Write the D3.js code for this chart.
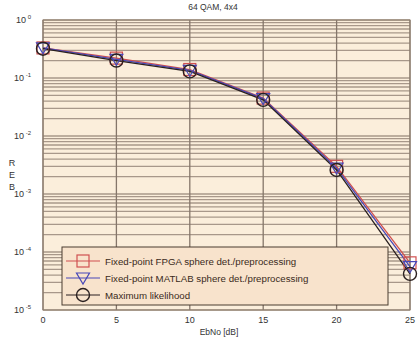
<!DOCTYPE html>
<html>
<head>
<meta charset="utf-8">
<script src="https://cdn.jsdelivr.net/npm/d3@7"></script>
<style>
  html, body { margin: 0; padding: 0; background: #ffffff; }
  svg { display: block; font-family: "Liberation Sans", Arial, sans-serif; }
</style>
</head>
<body>
<svg id="chart" width="420" height="340"></svg>
<script>
// Bit error rate of a 4x4 MIMO 64-QAM link vs. Eb/No
const ebno = [0, 5, 10, 15, 20, 25];
const berFpga   = [0.33, 0.22, 0.14, 0.045, 0.0030, 6.5e-5];
const berMatlab = [0.33, 0.21, 0.135, 0.044, 0.0028, 5.6e-5];
const berML     = [0.32, 0.20, 0.13, 0.042, 0.0026, 4.2e-5];
const xTicks = [0, 5, 10, 15, 20, 25];
const yExponents = [0, -1, -2, -3, -4, -5];
const seriesNames = [
  "Fixed-point FPGA sphere det./preprocessing",
  "Fixed-point MATLAB sphere det./preprocessing",
  "Maximum likelihood"
];

const svg = d3.select("#chart");
const plotL = 43, plotR = 410, plotT = 20, plotB = 310;

const x = d3.scaleLinear().domain([0, 25]).range([plotL, plotR]);
const y = d3.scaleLog().domain([1e-5, 1]).range([plotB, plotT]);

// plot background
svg.append("rect")
  .attr("x", plotL).attr("y", plotT)
  .attr("width", plotR - plotL).attr("height", plotB - plotT)
  .attr("fill", "#fbeedb");

// horizontal grid on every log tick (minor + major)
const gridTicks = [];
for (let e = -5; e < 0; e++) {
  for (let m = 1; m <= 9; m++) gridTicks.push(m * Math.pow(10, e));
}
gridTicks.push(1);
svg.append("g").selectAll("line")
  .data(gridTicks)
  .join("line")
  .attr("x1", plotL).attr("x2", plotR)
  .attr("y1", d => y(d)).attr("y2", d => y(d))
  .attr("stroke", "#a8988a")
  .attr("stroke-width", 1.3);

// vertical grid at x ticks
svg.append("g").selectAll("line")
  .data(xTicks)
  .join("line")
  .attr("x1", d => x(d)).attr("x2", d => x(d))
  .attr("y1", plotT).attr("y2", plotB)
  .attr("stroke", "#85766a")
  .attr("stroke-width", 1.3);

// frame
svg.append("rect")
  .attr("x", plotL).attr("y", plotT)
  .attr("width", plotR - plotL).attr("height", plotB - plotT)
  .attr("fill", "none")
  .attr("stroke", "#8f8070")
  .attr("stroke-width", 1);

// y tick labels: 10^e
const yl = svg.append("g").attr("fill", "#333").attr("font-size", 9);
yExponents.forEach(e => {
  const t = yl.append("text")
    .attr("x", 31).attr("y", y(Math.pow(10, e)) + 3)
    .attr("text-anchor", "end");
  t.append("tspan").text("10");
  t.append("tspan").attr("dy", -4).attr("font-size", 6).text(" " + e);
});

// x tick labels
svg.append("g").selectAll("text")
  .data(xTicks)
  .join("text")
  .attr("x", d => x(d)).attr("y", 323)
  .attr("text-anchor", "middle")
  .attr("font-size", 9)
  .attr("fill", "#333")
  .text(d => d);

// axis titles
svg.append("text")
  .attr("x", 219).attr("y", 335)
  .attr("text-anchor", "middle").attr("font-size", 8.5).attr("fill", "#333")
  .text("EbNo [dB]");
["R", "E", "B"].forEach((c, i) => {
  svg.append("text")
    .attr("x", 12).attr("y", 166 + i * 12)
    .attr("text-anchor", "middle").attr("font-size", 9).attr("fill", "#333")
    .text(c);
});
svg.append("text")
  .attr("x", 213).attr("y", 10)
  .attr("text-anchor", "middle").attr("font-size", 8.5).attr("fill", "#333")
  .text("64 QAM, 4x4");

// curves
const series = [
  { values: berFpga,   color: "#d05050", marker: "square" },
  { values: berMatlab, color: "#4848b8", marker: "triangle" },
  { values: berML,     color: "#2a2020", marker: "circle" }
];
const line = d3.line().x((d, i) => x(ebno[i])).y(d => y(d));

function drawMarker(g, type, color, cx, cy) {
  if (type === "square") {
    g.append("rect").attr("x", cx - 6).attr("y", cy - 6)
      .attr("width", 12).attr("height", 12)
      .attr("fill", "none").attr("stroke", color).attr("stroke-width", 1.2);
  } else if (type === "triangle") {
    g.append("path")
      .attr("d", `M${cx - 6.5},${cy - 5}L${cx + 6.5},${cy - 5}L${cx},${cy + 6}Z`)
      .attr("fill", "none").attr("stroke", color).attr("stroke-width", 1.2);
  } else {
    g.append("circle").attr("cx", cx).attr("cy", cy).attr("r", 6.5)
      .attr("fill", "none").attr("stroke", color).attr("stroke-width", 1.4);
  }
}

series.forEach(s => {
  svg.append("path")
    .attr("d", line(s.values))
    .attr("fill", "none")
    .attr("stroke", s.color)
    .attr("stroke-width", 1.3);
});
series.forEach(s => {
  const g = svg.append("g");
  s.values.forEach((v, i) => drawMarker(g, s.marker, s.color, x(ebno[i]), y(v)));
});

// legend
const lg = svg.append("g");
lg.append("rect")
  .attr("x", 62).attr("y", 247).attr("width", 326).attr("height", 58)
  .attr("fill", "#f8e3cc").attr("stroke", "#4a3c30").attr("stroke-width", 1);
series.forEach((s, i) => {
  const cy = 261 + i * 17;
  lg.append("line").attr("x1", 66).attr("x2", 100).attr("y1", cy).attr("y2", cy)
    .attr("stroke", s.color).attr("stroke-width", 1.2);
  drawMarker(lg, s.marker, s.color, 83, cy);
  lg.append("text").attr("x", 105).attr("y", cy + 3.5)
    .attr("font-size", 9.7).attr("fill", "#3a2a20")
    .text(seriesNames[i]);
});
</script>
</body>
</html>
